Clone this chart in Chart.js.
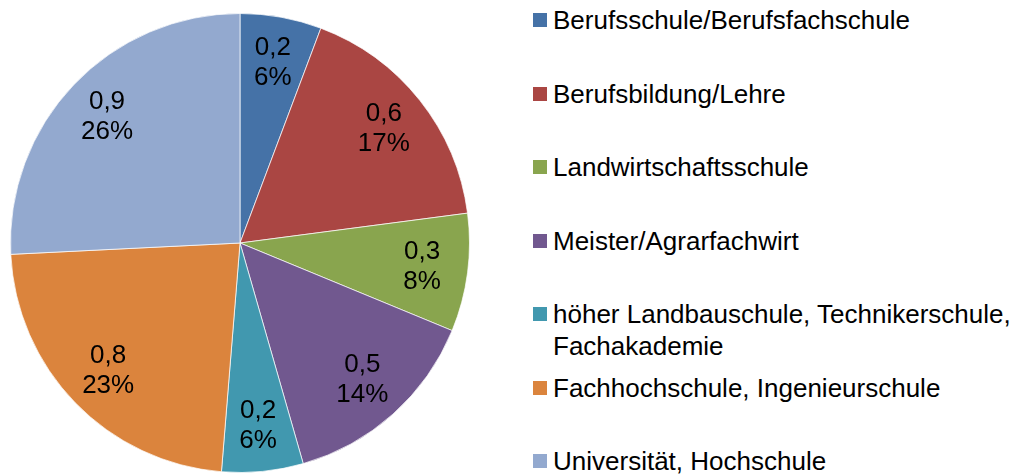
<!DOCTYPE html>
<html>
<head>
<meta charset="utf-8">
<script src="https://cdn.jsdelivr.net/npm/chart.js@4/dist/chart.umd.min.js"></script>
<style>
  body { margin: 0; background: #fff; font-family: "Liberation Sans", Arial, sans-serif; }
  #wrap { position: relative; width: 1030px; height: 476px; overflow: hidden; }
  #pieBox { position: absolute; left: 0; top: 0; width: 480px; height: 476px; }
  #legend { position: absolute; left: 533px; top: 4px; width: 497px; }
  .item { display: flex; align-items: flex-start; height: 73.5px; font-size: 26px; line-height: 32px; color: #000; }
  .box { width: 14px; height: 14px; margin-top: 9px; margin-right: 6px; flex: none; }
  .txt { width: 477px; }
</style>
</head>
<body>
<div id="wrap">
  <div id="pieBox"><canvas id="pie"></canvas></div>
  <div id="legend"></div>
</div>
<script>
const categories = [
  'Berufsschule/Berufsfachschule',
  'Berufsbildung/Lehre',
  'Landwirtschaftsschule',
  'Meister/Agrarfachwirt',
  'höher Landbauschule, Technikerschule, Fachakademie',
  'Fachhochschule, Ingenieurschule',
  'Universität, Hochschule'
];
const values = [0.2, 0.6, 0.29, 0.5, 0.2, 0.8, 0.9];
const colors = ['#4572A7', '#AA4643', '#89A54E', '#71588F', '#4198AF', '#DB843D', '#93A9CF'];

const total = values.reduce((a, b) => a + b, 0);

// legend built from the same arrays
const legend = document.getElementById('legend');
categories.forEach((c, i) => {
  const row = document.createElement('div');
  row.className = 'item';
  row.innerHTML = '<span class="box" style="background:' + colors[i] + '"></span><span class="txt"></span>';
  row.querySelector('.txt').textContent = c;
  legend.appendChild(row);
});

const sliceLabels = {
  id: 'sliceLabels',
  afterDatasetsDraw(chart) {
    const ctx = chart.ctx;
    const meta = chart.getDatasetMeta(0);
    ctx.save();
    ctx.font = '26px "Liberation Sans", Arial, sans-serif';
    ctx.fillStyle = '#000';
    ctx.textAlign = 'center';
    ctx.textBaseline = 'middle';
    meta.data.forEach((arc, i) => {
      const p = arc.getProps(['x', 'y', 'startAngle', 'endAngle', 'outerRadius'], true);
      const mid = (p.startAngle + p.endAngle) / 2;
      const r = p.outerRadius * 0.8;
      const x = p.x + Math.cos(mid) * r;
      const y = p.y + Math.sin(mid) * r;
      const v = values[i].toFixed(1).replace('.', ',');
      const pct = Math.round(values[i] / total * 100) + '%';
      ctx.fillText(v, x, y - 15);
      ctx.fillText(pct, x, y + 15);
    });
    ctx.restore();
  }
};

new Chart(document.getElementById('pie'), {
  type: 'pie',
  data: {
    labels: categories,
    datasets: [{
      data: values,
      backgroundColor: colors,
      borderColor: 'rgba(255,255,255,0.7)',
      borderWidth: 1
    }]
  },
  options: {
    responsive: true,
    maintainAspectRatio: false,
    animation: false,
    layout: { padding: { left: 10, right: 10, top: 13, bottom: 3 } },
    plugins: {
      legend: { display: false },
      tooltip: { enabled: false }
    }
  },
  plugins: [sliceLabels]
});
</script>
</body>
</html>
